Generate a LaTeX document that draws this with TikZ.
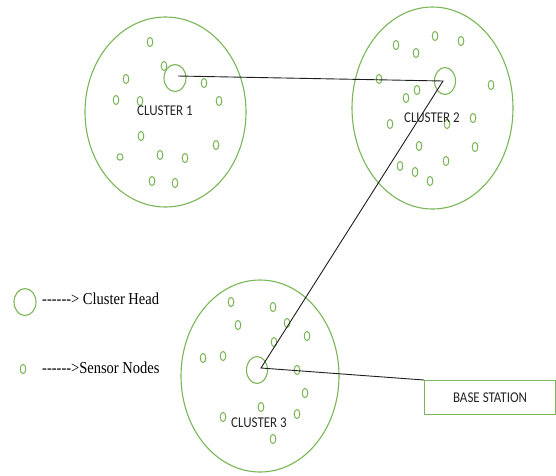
\documentclass[tikz,border=0pt]{standalone}
\usepackage{fontspec}
\usepackage{graphicx}
\usetikzlibrary{shapes.geometric}
\setmainfont{Liberation Serif}
\newfontfamily\labelfont{Carlito}
\newcommand\talltext[1]{\scalebox{1}[1.15]{#1}}
% a plain hyphen, kept apart from its neighbours so no dash ligature forms
\newcommand\hy{\mbox{-}}
\newcommand\dashrun{\hy\hy\hy\hy\hy\hy>}
\definecolor{leafgreen}{RGB}{122,182,88}
\definecolor{linkgray}{RGB}{30,30,30}
\begin{document}
\begin{tikzpicture}[x=1pt,y=-1pt,
  headnode/.style={draw=leafgreen,line width=1.1pt},
  headshape/.style={headnode,ellipse,inner sep=0pt,minimum width=21pt,minimum height=27pt},
  sensor/.style={draw=leafgreen,line width=1pt},
  link/.style={draw=linkgray,line width=0.9pt},
  clabel/.style={font=\labelfont\fontsize{13}{15}\selectfont,text=black!85,inner sep=0pt},
  legendtext/.style={font=\fontsize{14.5}{17}\selectfont,anchor=west,inner sep=0pt}]
\useasboundingbox (0,0) rectangle (556,475);

% cluster boundaries
\draw[headnode] (165.5,112) ellipse [x radius=80.5,y radius=95];
\draw[headnode] (432.5,108) ellipse [x radius=80.5,y radius=101];
\draw[headnode] (260,376) ellipse [x radius=79,y radius=96];

% sensor nodes
\foreach \p in {(150,42),(164,66),(126,79),(204,83),(116,100),(140,101),(219,101),
  (141,136),(216,145),(160,155),(185,158),(152,181),(175,183),
  (396,45),(435,36),(461,41),(416,53),(379,79),(491,85),(417,90),(406,98),
  (390,124),(447,124),(473,118),(419,146),(475,147),(446,161),(400,166),(415,172),(430,181),
  (231,302),(273,307),(238,325),(287,323),(307,336),(274,342),(203,358),(223,356),
  (297,370),(305,393),(261,407),(223,417),(297,414),(273,439)}
  \draw[sensor] \p ellipse [x radius=2.8,y radius=4.6];
\draw[sensor] (120,157) ellipse [x radius=3,y radius=3.2];

% cluster heads
\node[headshape,minimum width=22pt] (ch1) at (175,78) {};
\node[headshape] (ch2) at (445,81) {};
\node[headshape] (ch3) at (257,370) {};

\coordinate (h1) at (178,76);
\coordinate (h2) at (443,81);
\coordinate (h3) at (261,368);

% cluster labels
\node[clabel] (c1) at (165,111) {\talltext{CLUSTER 1}};
\node[clabel] (c2) at (432,118) {\talltext{CLUSTER 2}};
\node[clabel] (c3) at (259,423) {\talltext{CLUSTER 3}};

% base station
\node[draw=leafgreen,line width=1.1pt,minimum width=131pt,minimum height=34pt,inner sep=0pt,
  anchor=north west,clabel] (bs) at (424,380) {\talltext{BASE STATION}};

% routing path
\draw[link] (h1) -- (h2) -- (h3) -- (bs.north west);

% legend
\node[headshape,minimum width=22pt] (lgh) at (25,302) {};
\node[legendtext] (lgt) at (42,299) {\talltext{\dashrun\ Cluster Head}};
\draw[sensor] (23,369) ellipse [x radius=2.8,y radius=4.6];
\node[legendtext] (lst) at (42,368) {\talltext{\dashrun Sensor Nodes}};
\end{tikzpicture}
\end{document}
